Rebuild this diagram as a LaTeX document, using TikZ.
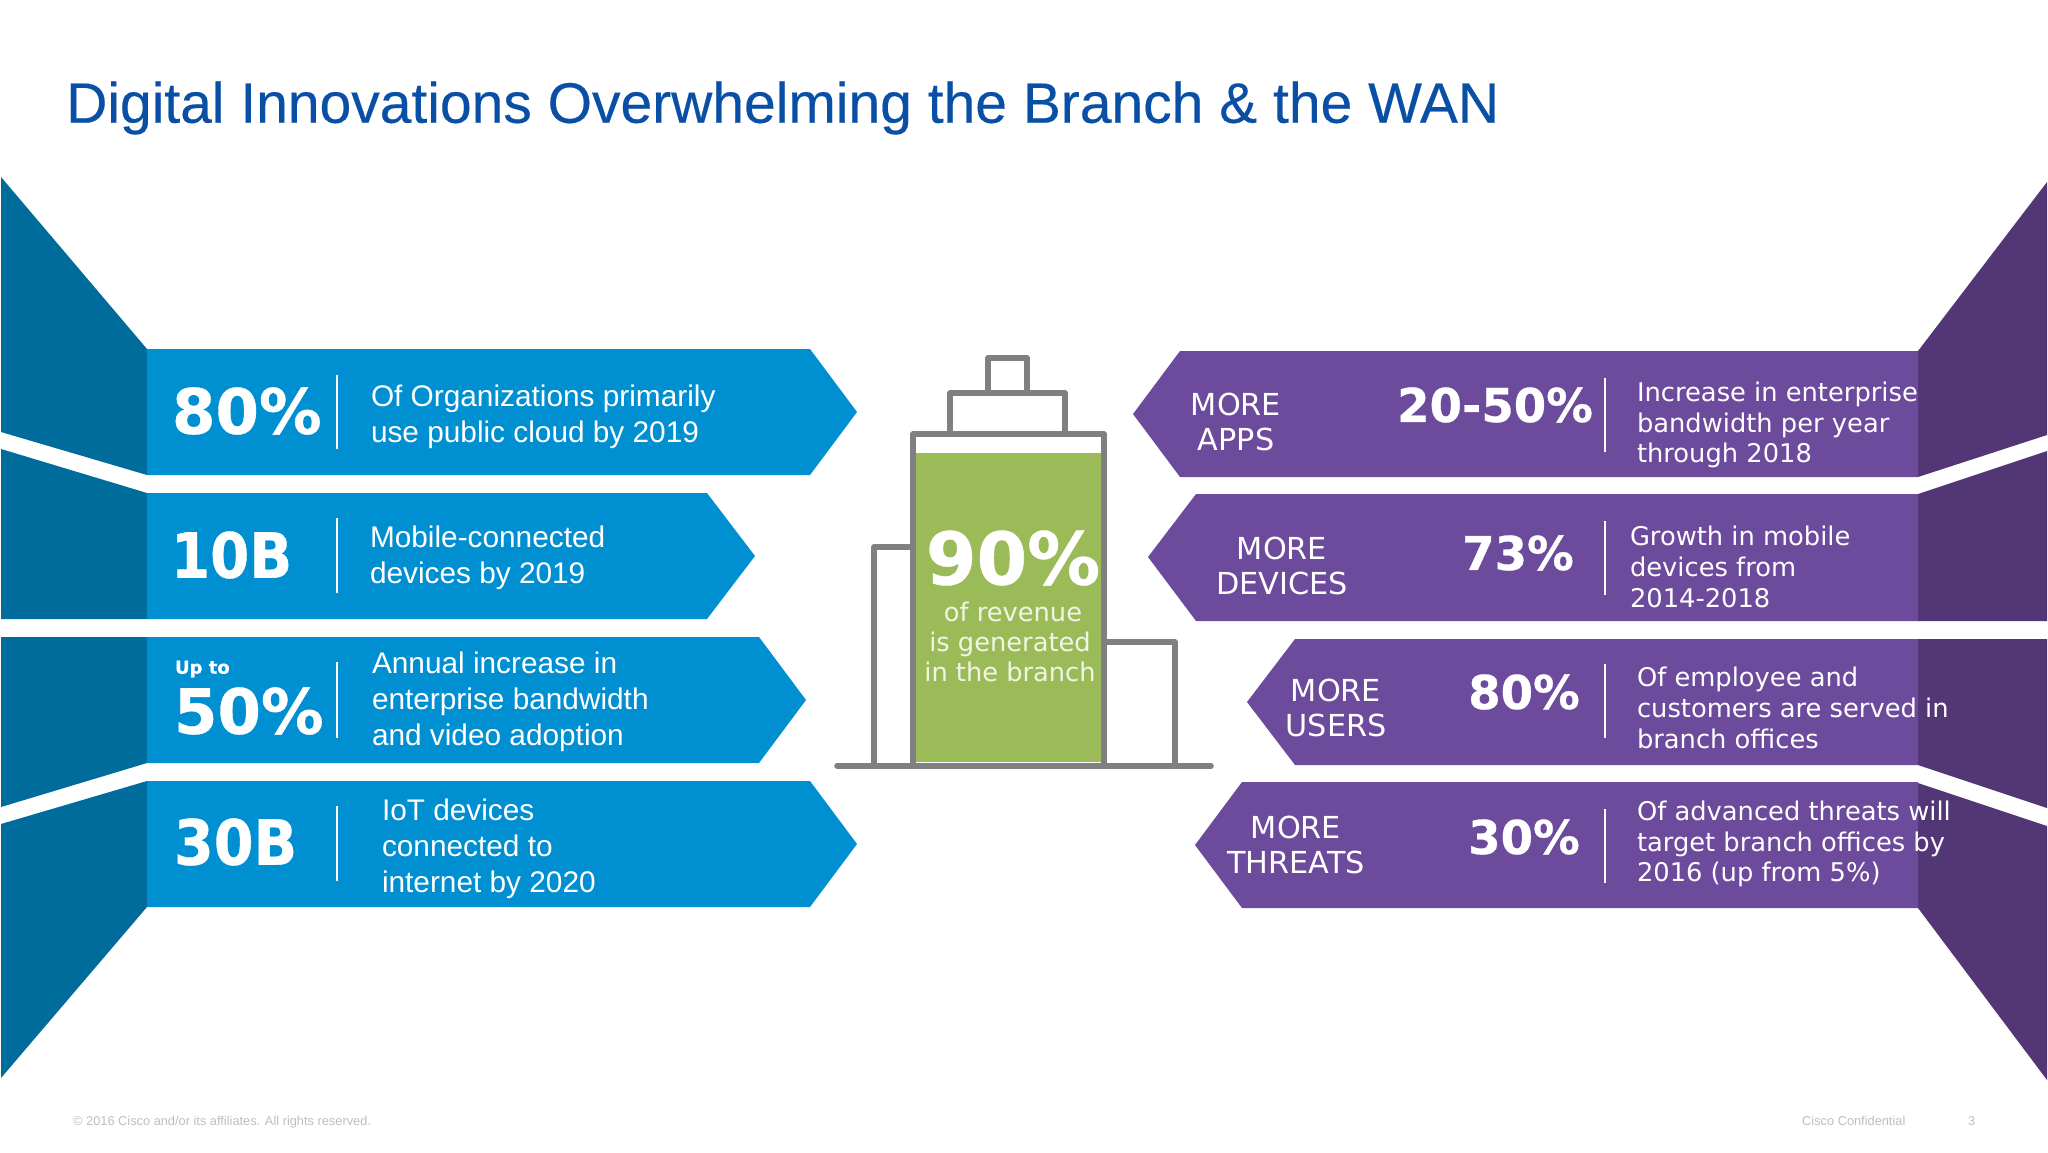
\documentclass[tikz,border=0pt]{standalone}
\usepackage{fontspec}
\setmainfont{Liberation Sans}
\newfontfamily\titlefont{Liberation Sans}[FakeBold=0.3]
\newfontfamily\vfont{DejaVu Sans}[BoldFeatures={FakeBold=0.6}]
\definecolor{titleblue}{HTML}{0A4FA6}
\definecolor{bandblue}{HTML}{0090D2}
\definecolor{wedgeblue}{HTML}{006C9C}
\definecolor{bandpurple}{HTML}{6C4A9C}
\definecolor{wedgepurple}{HTML}{523675}
\definecolor{bldgray}{HTML}{808083}
\definecolor{bldgreen}{HTML}{9BBB59}
\definecolor{greentext}{HTML}{F0F5E4}
\definecolor{footgray}{HTML}{BEBEC2}
\tikzset{
  x=1pt,y=-1pt,
  txt/.style={inner sep=0pt,outer sep=0pt,text=white},
  bandL/.style={fill=bandblue},
  wedgeL/.style={fill=wedgeblue},
  bandR/.style={fill=bandpurple},
  wedgeR/.style={fill=wedgepurple},
  sepline/.style={draw=white,line width=1.8pt},
  bignum/.style={txt,anchor=west,font=\vfont\bfseries\fontsize{62.5}{70}\selectfont},
  midnum/.style={txt,anchor=center,font=\vfont\bfseries\fontsize{46.6}{52}\selectfont},
  armtext/.style={txt,anchor=west,align=left,font=\fontsize{29.8}{36}\selectfont},
  vertext/.style={txt,anchor=west,align=left,font=\vfont\fontsize{25.75}{30.7}\selectfont},
  moretext/.style={txt,anchor=center,align=center,font=\vfont\fontsize{30.3}{35.6}\selectfont},
  bld/.style={draw=bldgray,line width=5.5pt,line join=round,line cap=round},
  foot/.style={inner sep=0pt,text=footgray,anchor=west,font=\fontsize{12.8}{16}\selectfont},
}
\begin{document}
\begin{tikzpicture}
\useasboundingbox (0,0) rectangle (2048,1152);
\fill[white] (0,0) rectangle (2048,1152);
\node[inner sep=0pt,anchor=west,text=titleblue,font=\titlefont\fontsize{57}{64}\selectfont] (title) at (66,108) {Digital Innovations Overwhelming the Branch \& the WAN};

% left wedges
\path[wedgeL] (1,177) -- (147,349) -- (147,475) -- (1,432) -- cycle;
\path[wedgeL] (1,449) -- (147,493) -- (147,619) -- (1,619) -- cycle;
\path[wedgeL] (1,637) -- (147,637) -- (147,763) -- (1,807) -- cycle;
\path[wedgeL] (1,824) -- (147,781) -- (147,907) -- (1,1078) -- cycle;
% left bands
\path[bandL] (147,349) -- (810,349) -- (857,412) -- (810,475) -- (147,475) -- cycle;
\path[bandL] (147,493) -- (707,493) -- (755,556) -- (707,619) -- (147,619) -- cycle;
\path[bandL] (147,637) -- (759,637) -- (806,700) -- (759,763) -- (147,763) -- cycle;
\path[bandL] (147,781) -- (810,781) -- (857,844) -- (810,907) -- (147,907) -- cycle;
% right wedges
\path[wedgeR] (2047,182) -- (1918,351) -- (1918,477) -- (2047,435) -- cycle;
\path[wedgeR] (2047,451) -- (1918,494) -- (1918,621) -- (2047,621) -- cycle;
\path[wedgeR] (2047,639) -- (1918,639) -- (1918,765) -- (2047,808) -- cycle;
\path[wedgeR] (2047,826) -- (1918,783) -- (1918,908) -- (2047,1080) -- cycle;
% right bands
\path[bandR] (1918,351) -- (1180,351) -- (1133,414) -- (1180,477) -- (1918,477) -- cycle;
\path[bandR] (1918,494) -- (1196,494) -- (1148,557) -- (1196,621) -- (1918,621) -- cycle;
\path[bandR] (1918,639) -- (1295,639) -- (1247,702) -- (1295,765) -- (1918,765) -- cycle;
\path[bandR] (1918,782) -- (1242,782) -- (1195,845) -- (1242,908) -- (1918,908) -- cycle;

% separators
\draw[sepline] (337,375) -- (337,449);
\draw[sepline] (337,518) -- (337,593);
\draw[sepline] (337,662) -- (337,738);
\draw[sepline] (337,806) -- (337,881);
\draw[sepline] (1605,378) -- (1605,452);
\draw[sepline] (1605,521) -- (1605,595);
\draw[sepline] (1605,664) -- (1605,738);
\draw[sepline] (1605,809) -- (1605,883);

% left text
\node[bignum] (n80) at (172,411) {80\%};
\node[bignum,xscale=0.9,transform shape] (n10) at (171,555) {10B};
\node[txt,anchor=west,font=\vfont\bfseries\fontsize{18}{20}\selectfont] (upto) at (175,669) {Up to};
\node[bignum] (n50) at (174,711) {50\%};
\node[bignum,xscale=0.915,transform shape] (n30) at (174,842) {30B};
\node[armtext] (t1) at (371,417) {Of Organizations primarily\\use public cloud by 2019};
\node[armtext] (t2) at (370,558) {Mobile-connected\\devices by 2019};
\node[armtext] (t3) at (372,702) {Annual increase in\\enterprise bandwidth\\and video adoption};
\node[armtext] (t4) at (382,849) {IoT devices\\connected to\\internet by 2020};

% right text
\node[moretext] (m1) at (1236,422) {MORE\\APPS};
\node[moretext] (m2) at (1282,566) {MORE\\DEVICES};
\node[moretext] (m3) at (1336,708) {MORE\\USERS};
\node[moretext] (m4) at (1296,845) {MORE\\THREATS};
\node[midnum] (r1) at (1495,405) {20-50\%};
\node[midnum] (r2) at (1518,553) {73\%};
\node[midnum] (r3) at (1524,692) {80\%};
\node[midnum] (r4) at (1524,837) {30\%};
\node[vertext] (d1) at (1637,425) {Increase in enterprise\\bandwidth per year\\through 2018};
\node[vertext] (d2) at (1630,567) {Growth in mobile\\devices from\\2014-2018};
\node[vertext] (d3) at (1637,708) {Of employee and\\customers are served in\\branch offices};
\node[vertext] (d4) at (1637,844) {Of advanced threats will\\target branch offices by\\2016 (up from 5\%)};

% building
\fill[bldgreen] (916,453) rectangle (1101,762);
\draw[bld] (874,766) -- (874,547) -- (913,547);
\draw[bld] (1104,642) -- (1175,642) -- (1175,766);
\draw[bld] (950,434) -- (950,393) -- (1065,393) -- (1065,434);
\draw[bld] (988,393) -- (988,358) -- (1027,358) -- (1027,393);
\draw[bld] (913,766) -- (913,434) -- (1104,434) -- (1104,766);
\draw[bld] (837,766) -- (1211,766);
\node[txt,anchor=center,font=\vfont\bfseries\fontsize{72.8}{80}\selectfont] (n90) at (1013,558) {90\%};
\node[txt,anchor=center,align=center,text=greentext,font=\vfont\fontsize{25.7}{30}\selectfont] (rev) at (1010,642) {\hspace*{6pt}of revenue\\is generated\\in the branch};

% footer
\node[foot] (copy) at (73,1122) {© 2016 Cisco and/or its affiliates. All rights reserved.};
\node[foot] (conf) at (1802,1121) {Cisco Confidential};
\node[foot] (page) at (1968,1121) {3};
\end{tikzpicture}
\end{document}
